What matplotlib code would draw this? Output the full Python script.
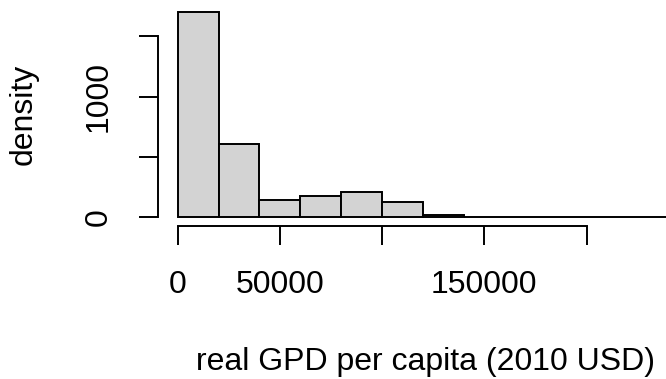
import matplotlib
matplotlib.use("Agg")
import matplotlib.pyplot as plt
import numpy as np

plt.rcParams['font.family'] = ['Liberation Sans', 'DejaVu Sans']

bin_edges = [0, 20000, 40000, 60000, 80000, 100000, 120000, 140000,
             160000, 180000, 200000, 220000, 240000]
counts = [1705, 605, 146, 182, 215, 127, 20, 2, 5, 4, 0, 6]
x_ticks = [0, 50000, 100000, 150000, 200000]
x_tick_labels = ['0', '50000', '', '150000', '']
y_ticks = [0, 500, 1000, 1500]
y_tick_labels = ['0', '', '1000', '']
x_label = 'real GPD per capita (2010 USD)'
y_label = 'density'

FS = 23
LW = 1.4
W, H = 666, 379
fig = plt.figure(figsize=(W / 100, H / 100), dpi=100)
left, right, top, bottom = 158, 688, 3.5, 225.7
ax = fig.add_axes([left / W, 1 - bottom / H, (right - left) / W, (bottom - top) / H])

edges = np.array(bin_edges)
widths = np.diff(edges)
ax.bar(edges[:-1], counts, width=widths, align='edge', color='#D3D3D3',
       edgecolor='black', linewidth=LW, clip_on=False)

ymax = max(counts)
xr = edges[-1] - edges[0]
ax.set_xlim(edges[0] - 0.04 * xr, edges[-1] + 0.04 * xr)
ax.set_ylim(-0.04 * ymax, 1.04 * ymax)

for s in ['top', 'right']:
    ax.spines[s].set_visible(False)
ax.spines['left'].set_bounds(0, 1500)
ax.spines['bottom'].set_bounds(0, 200000)
ax.spines['left'].set_linewidth(LW)
ax.spines['bottom'].set_linewidth(LW)

ax.set_xticks(x_ticks)
ax.set_xticklabels(x_tick_labels, fontsize=FS)
ax.set_yticks(y_ticks)
ax.set_yticklabels(y_tick_labels, fontsize=FS, rotation=90, va='center')
ax.tick_params(axis='both', direction='out', length=13.7, width=LW)
ax.tick_params(axis='x', pad=18.5)
ax.tick_params(axis='y', pad=18)

fig.text(24 / W, 1 - 114.6 / H, y_label, rotation=90, ha='center', va='center', fontsize=FS)
fig.text(425 / W, 1 - 370 / H, x_label, ha='center', va='baseline', fontsize=FS)

fig.savefig('out.png', dpi=100)
